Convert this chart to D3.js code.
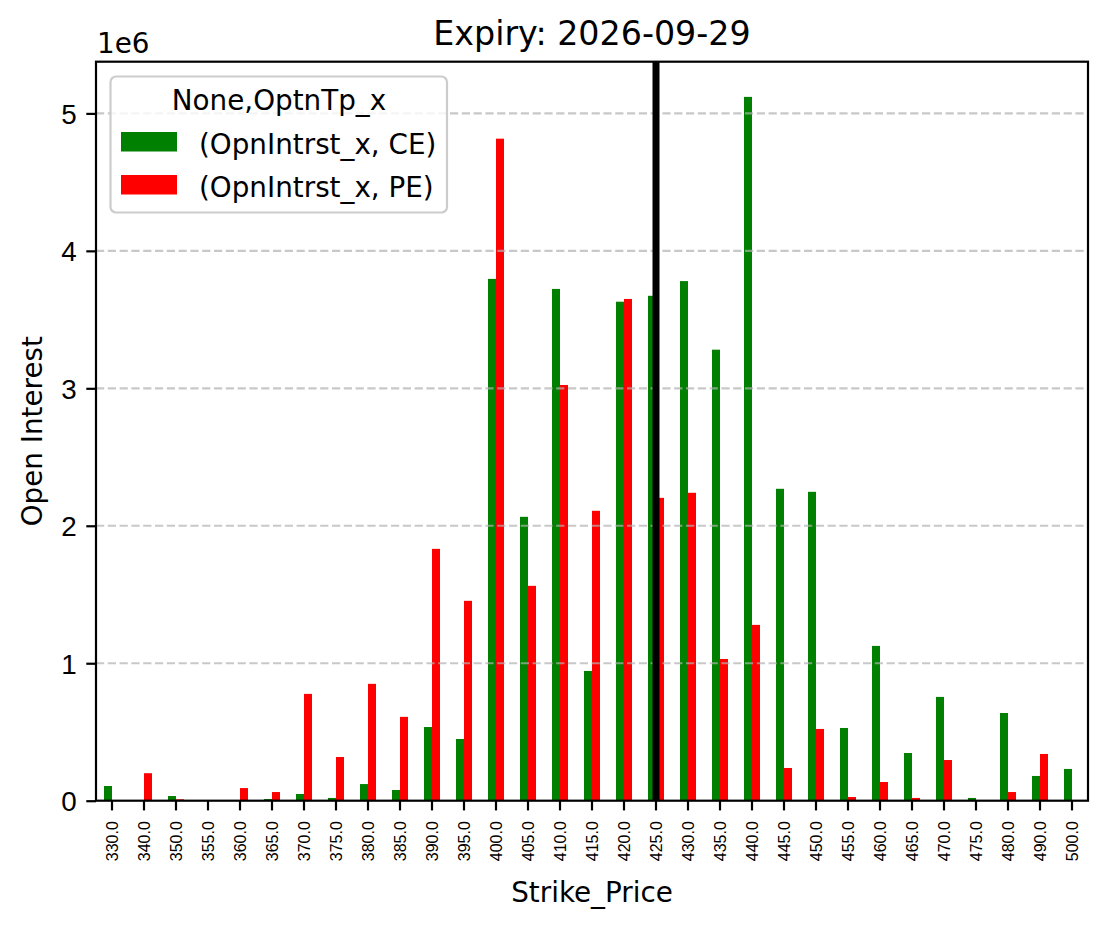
<!DOCTYPE html>
<html>
<head>
<meta charset="utf-8">
<script src="https://cdn.jsdelivr.net/npm/d3@7"></script>
<style>
  body { margin: 0; background: #fff; }
  svg { display: block; font-family: "DejaVu Sans", sans-serif; }
</style>
</head>
<body>
<svg id="chart" width="1108" height="928"></svg>
<script>
// ---- data ----
const strikes = [330,340,350,355,360,365,370,375,380,385,390,395,400,405,410,415,420,425,430,435,440,445,450,455,460,465,470,475,480,490,500];
const strikeLabels = strikes.map(s => s.toFixed(1));
const ceValues = [0.107e6,0,0.034e6,0,0,0.012e6,0.049e6,0.02e6,0.121e6,0.078e6,0.536e6,0.449e6,3.796e6,2.065e6,3.723e6,0.944e6,3.63e6,3.673e6,3.78e6,3.281e6,5.12e6,2.269e6,2.247e6,0.529e6,1.126e6,0.347e6,0.755e6,0.02e6,0.638e6,0.18e6,0.231e6];
const peValues = [0,0.2e6,0.01e6,0,0.092e6,0.063e6,0.777e6,0.318e6,0.85e6,0.61e6,1.832e6,1.454e6,4.816e6,1.563e6,3.024e6,2.109e6,3.65e6,2.203e6,2.24e6,1.031e6,1.279e6,0.238e6,0.522e6,0.027e6,0.136e6,0.02e6,0.296e6,0,0.063e6,0.34e6,0];
const yTicks = [0,1e6,2e6,3e6,4e6,5e6];
const spotStrike = 425;
const seriesNames = ["(OpnIntrst_x, CE)", "(OpnIntrst_x, PE)"];
const seriesColors = ["green", "red"];
const legendTitle = "None,OptnTp_x";
const chartTitle = "Expiry: 2026-09-29";

// ---- layout ----
const svg = d3.select("#chart");
const L = 96, R = 1088, T = 61.7, B = 800.7;
const fs = 27.8;

const x = d3.scaleBand().domain(strikes).range([L, R]).padding(0);
const ymax = d3.max(ceValues.concat(peValues)) * 1.05;
const y = d3.scaleLinear().domain([0, ymax]).range([B, T]);
const bw = x.bandwidth() * 0.25;
const cx = s => x(s) + x.bandwidth() / 2;

// bars
const rows = strikes.map((s, i) => ({s, ce: ceValues[i], pe: peValues[i]}));
svg.append("g").selectAll("rect.ce").data(rows).join("rect")
  .attr("x", d => cx(d.s) - bw).attr("width", bw)
  .attr("y", d => y(d.ce)).attr("height", d => y(0) - y(d.ce))
  .attr("fill", seriesColors[0]);
svg.append("g").selectAll("rect.pe").data(rows).join("rect")
  .attr("x", d => cx(d.s)).attr("width", bw)
  .attr("y", d => y(d.pe)).attr("height", d => y(0) - y(d.pe))
  .attr("fill", seriesColors[1]);

// grid (above bars, like matplotlib)
svg.append("g").selectAll("line").data(yTicks.slice(1)).join("line")
  .attr("x1", L).attr("x2", R)
  .attr("y1", d => y(d)).attr("y2", d => y(d))
  .attr("stroke", "#b0b0b0").attr("stroke-opacity", 0.7)
  .attr("stroke-width", 2.2).attr("stroke-dasharray", "8.2,3.6");

// vertical line at spot strike
svg.append("line")
  .attr("x1", cx(spotStrike)).attr("x2", cx(spotStrike))
  .attr("y1", T).attr("y2", B)
  .attr("stroke", "#000").attr("stroke-width", 7);

// axes
const xAxis = d3.axisBottom(x).tickFormat((d, i) => strikeLabels[i]).tickSizeInner(9.7).tickSizeOuter(0).tickPadding(9.7);
const gx = svg.append("g").attr("transform", `translate(0,${B})`).call(xAxis);
gx.select(".domain").remove();
gx.selectAll(".tick line").attr("stroke", "#000").attr("stroke-width", 2.2);
gx.selectAll(".tick text")
  .attr("font-size", 16).attr("fill", "#000")
  .attr("transform", "rotate(-90)")
  .attr("x", -20.5).attr("y", 0).attr("dy", "0.35em")
  .attr("text-anchor", "end");

const yAxis = d3.axisLeft(y).tickValues(yTicks).tickFormat(d => String(d / 1e6)).tickSizeInner(9.7).tickSizeOuter(0).tickPadding(9.7);
const gy = svg.append("g").attr("transform", `translate(${L},0)`).call(yAxis);
gy.select(".domain").remove();
gy.selectAll(".tick line").attr("stroke", "#000").attr("stroke-width", 2.2);
gy.selectAll(".tick text").attr("font-size", fs).attr("fill", "#000").attr("dy", "0.36em");

// spines
svg.append("rect").attr("x", L).attr("y", T).attr("width", R - L).attr("height", B - T)
  .attr("fill", "none").attr("stroke", "#000").attr("stroke-width", 2.2);

// offset text
svg.append("text").attr("x", 97).attr("y", 53).attr("font-size", fs).text("1e6");

// title & labels
svg.append("text").attr("x", (L + R) / 2).attr("y", 45).attr("text-anchor", "middle")
  .attr("font-size", 33.3).text(chartTitle);
svg.append("text").attr("x", (L + R) / 2).attr("y", 902).attr("text-anchor", "middle")
  .attr("font-size", fs).text("Strike_Price");
svg.append("text").attr("transform", `translate(42,${(T + B) / 2}) rotate(-90)`)
  .attr("text-anchor", "middle").attr("font-size", fs).text("Open Interest");

// legend
const lg = svg.append("g");
lg.append("rect").attr("x", 110.5).attr("y", 76.5).attr("width", 336.5).attr("height", 136)
  .attr("rx", 5.6).attr("fill", "#fff").attr("fill-opacity", 0.8)
  .attr("stroke", "#cccccc").attr("stroke-width", 2.2);
lg.append("text").attr("x", 279).attr("y", 110).attr("text-anchor", "middle")
  .attr("font-size", fs).text(legendTitle);
seriesNames.forEach((name, i) => {
  const yy = 132 + i * 43;
  lg.append("rect").attr("x", 121).attr("y", yy).attr("width", 56).attr("height", 19.5)
    .attr("fill", seriesColors[i]);
  lg.append("text").attr("x", 199).attr("y", yy + 21.5).attr("font-size", fs).text(name);
});
</script>
</body>
</html>
